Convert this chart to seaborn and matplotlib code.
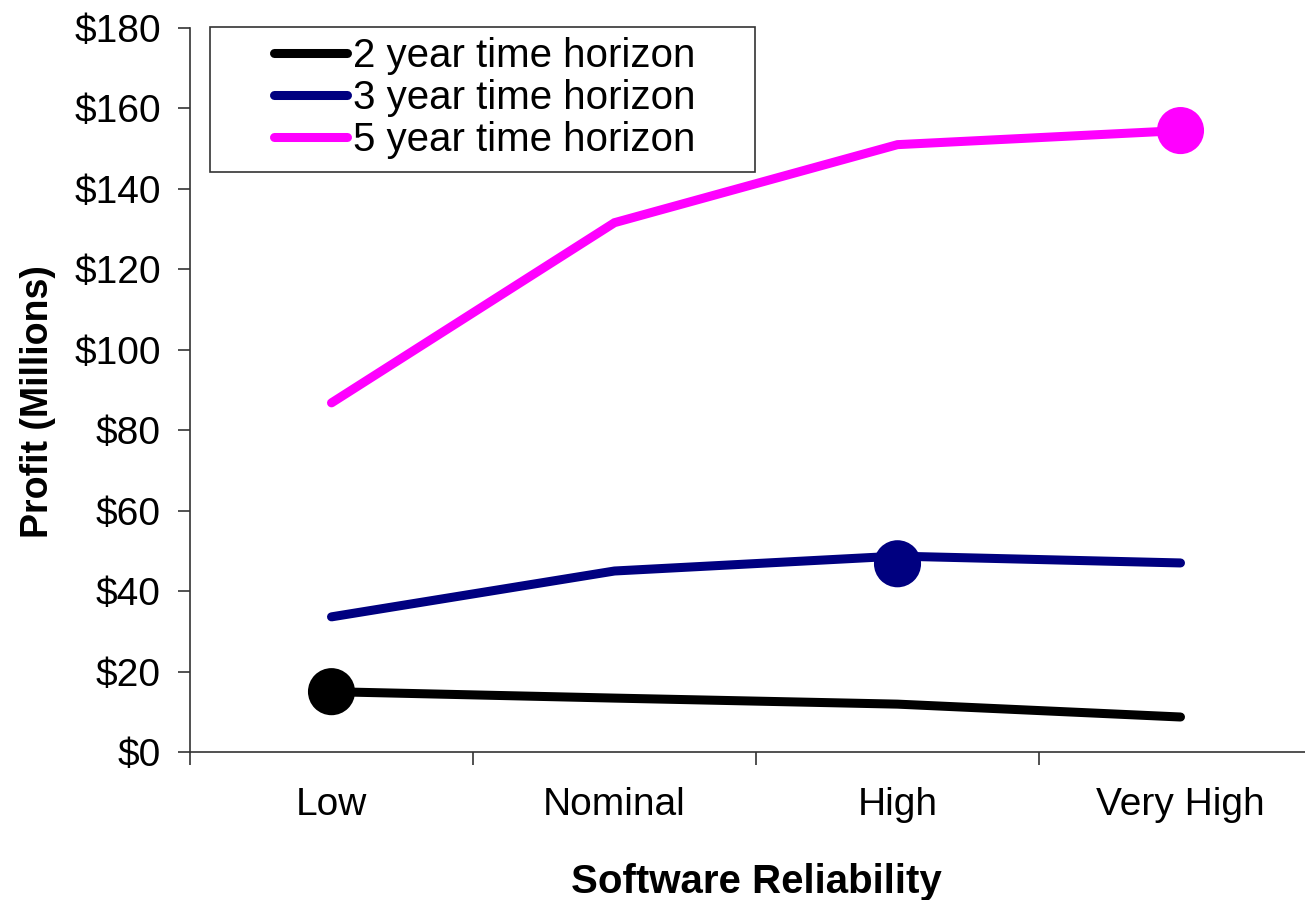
import matplotlib
matplotlib.use("Agg")
import matplotlib.pyplot as plt
from matplotlib.patches import Rectangle
from matplotlib.ticker import FuncFormatter, FixedLocator
import pandas as pd
import seaborn as sns

# Profit (millions of dollars) by software reliability level and planning horizon
reliability = ["Low", "Nominal", "High", "Very High"]
horizons = ["2 year time horizon", "3 year time horizon", "5 year time horizon"]
profit_2yr = [15.0, 13.4, 11.9, 8.7]
profit_3yr = [33.6, 45.0, 48.7, 47.0]
profit_5yr = [86.8, 131.6, 151.0, 154.5]

# Best reliability level for each horizon
best_level = ["Low", "High", "Very High"]
best_profit = [15.0, 46.8, 154.5]

colors = ["#000000", "#000080", "#FF00FF"]
y_ticks = [0, 20, 40, 60, 80, 100, 120, 140, 160, 180]

df = pd.DataFrame({
    "reliability": reliability * 3,
    "profit": profit_2yr + profit_3yr + profit_5yr,
    "horizon": [h for h in horizons for _ in reliability],
})
best = pd.DataFrame({"reliability": best_level, "profit": best_profit, "horizon": horizons})

sns.set_style("ticks")
plt.rcParams["font.family"] = ["Liberation Sans", "DejaVu Sans"]
plt.rcParams["text.color"] = "black"
plt.rcParams["axes.labelcolor"] = "black"
plt.rcParams["xtick.color"] = "black"
plt.rcParams["ytick.color"] = "black"

fig = plt.figure(figsize=(13.05, 9.0), dpi=100)
W, H = 1305, 900
left, right, top, bottom = 190, 1322, 28, 752
ax = fig.add_axes([left / W, 1 - bottom / H, (right - left) / W, (bottom - top) / H])

palette = dict(zip(horizons, colors))
sns.lineplot(data=df, x="reliability", y="profit", hue="horizon", palette=palette,
             linewidth=6.5, ax=ax, legend=False, sort=False,
             solid_capstyle="round", solid_joinstyle="miter")
sns.scatterplot(data=best, x="reliability", y="profit", hue="horizon", palette=palette,
                s=1150, edgecolor="none", ax=ax, legend=False, zorder=5)

ax.set_xlim(-0.5, 3.5)
ax.set_ylim(0, 180)
ax.set_yticks(y_ticks)
ax.yaxis.set_major_formatter(FuncFormatter(lambda v, _: f"${v:.0f}"))
ax.set_xticks(range(len(reliability)))
ax.set_xticklabels(reliability)
ax.xaxis.set_minor_locator(FixedLocator([-0.5, 0.5, 1.5, 2.5, 3.5]))

for side in ("top", "right"):
    ax.spines[side].set_visible(False)
for side in ("left", "bottom"):
    ax.spines[side].set_linewidth(1.2)
    ax.spines[side].set_color("#333333")

ax.tick_params(axis="y", which="major", length=9, width=1.2, color="#333333",
               labelsize=28, pad=12, direction="out", labelcolor="black")
ax.tick_params(axis="x", which="major", length=0, labelsize=28, pad=25, labelcolor="black")
ax.tick_params(axis="x", which="minor", length=9, width=1.2, color="#333333", direction="out")

ax.set_xlabel("Software Reliability", fontsize=29, fontweight="bold", color="black")
ax.set_ylabel("Profit (Millions)", fontsize=27, fontweight="bold", color="black")
ax.xaxis.set_label_coords(0.5, (bottom - 863) / (bottom - top))
ax.yaxis.set_label_coords((56 - left) / (right - left), (bottom - 402) / (bottom - top))

# Legend box and entries
bx0, by0, bx1, by1 = 210, 27, 755, 172
fig.patches.append(Rectangle((bx0 / W, 1 - by1 / H), (bx1 - bx0) / W, (by1 - by0) / H,
                             transform=fig.transFigure, facecolor="white",
                             edgecolor="#333333", linewidth=1.2, zorder=3))
handles = [plt.Line2D([], [], color=c, linewidth=6.5, solid_capstyle="round") for c in colors]
leg = fig.legend(handles, horizons, loc="upper left",
                 bbox_to_anchor=(274 / W, 1 - 37 / H), bbox_transform=fig.transFigure,
                 frameon=False, fontsize=29, handlelength=1.8, handletextpad=0.17,
                 labelspacing=0.1, borderpad=0, borderaxespad=0)
leg.set_zorder(4)
for t in leg.get_texts():
    t.set_color("black")

fig.savefig("out.png", dpi=100, facecolor="white")
